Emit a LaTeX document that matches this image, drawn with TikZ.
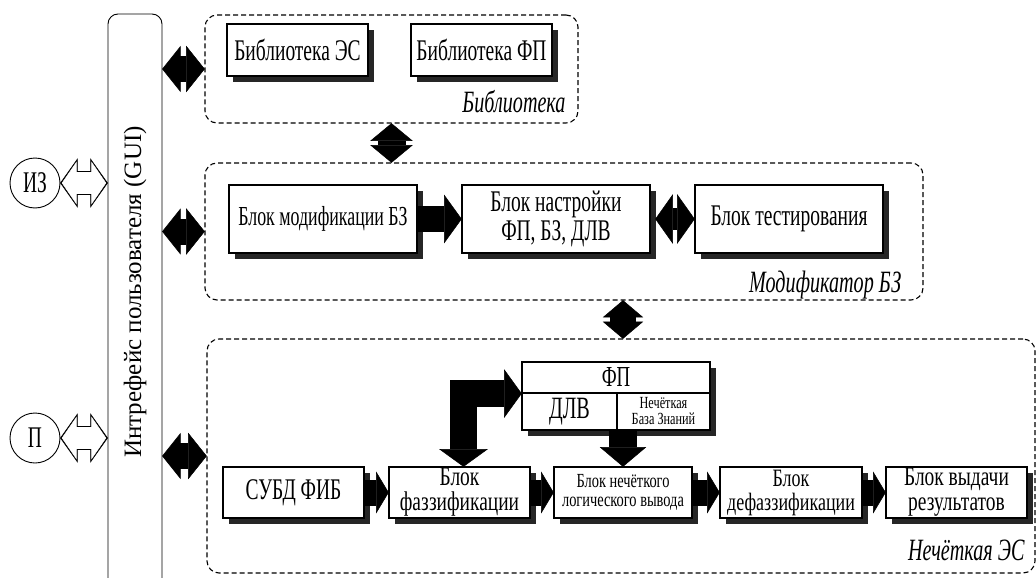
\documentclass[tikz,border=0pt]{standalone}
\usepackage{fontspec}
\setmainfont{Liberation Serif}
\newfontfamily\boxfont[FakeStretch=0.65]{Liberation Serif}
\newfontfamily\wideboxfont[FakeStretch=0.72]{Liberation Serif}
\newfontfamily\guifont{Liberation Serif}
\usetikzlibrary{calc}
\usetikzlibrary{shadows}

\newcommand{\fBox}{\boxfont\fontsize{30}{24}\selectfont}
\newcommand{\fMid}{\boxfont\fontsize{27.5}{24}\selectfont}
\newcommand{\fTwo}{\wideboxfont\fontsize{27}{25}\selectfont}
\newcommand{\fTwoM}{\wideboxfont\fontsize{25}{24}\selectfont}
\newcommand{\fSma}{\wideboxfont\fontsize{20}{19}\selectfont}
\newcommand{\fTin}{\wideboxfont\fontsize{17}{16}\selectfont}
\newcommand{\fLab}{\boxfont\itshape\fontsize{31}{28}\selectfont}

% head of a fat arrow: [colour]{from}{tip}{length}{half width}
\newcommand{\fatHead}[5][black]{
  \path ($(#3)!#4!(#2)$) coordinate (fh);
  \filldraw[#1, line width=0.5pt] ($(fh)!#5!90:(#3)$) -- (#3) -- ($(fh)!#5!-90:(#3)$) -- cycle;
}
% fat arrows: [colour]{from}{to}{shaft}{half head width}{head length}
\newcommand{\fatArr}[6][black]{
  \draw[#1, line width=#4, shorten >=#6] (#2) -- (#3);
  \fatHead[#1]{#2}{#3}{#6}{#5}
}
\newcommand{\fatDbl}[6][black]{
  \draw[#1, line width=#4, shorten >=#6, shorten <=#6] (#2) -- (#3);
  \fatHead[#1]{#2}{#3}{#6}{#5}
  \fatHead[#1]{#3}{#2}{#6}{#5}
}

\tikzset{
  blok/.style={draw, line width=1.1pt, fill=white, inner sep=0pt, align=center, font=\fBox,
    drop shadow={shadow xshift=6pt, shadow yshift=-6pt, fill=black!85, opacity=1}},
  grp/.style={draw, dash pattern=on 5pt off 3pt, line width=1.1pt, rounded corners=12pt, inner sep=0pt},
  krug/.style={draw, circle, line width=0.9pt, minimum size=50pt, inner sep=0pt, font=\fBox}
}

\begin{document}
\begin{tikzpicture}[x=1pt, y=-1pt]
  \fill[white] (0,0) rectangle (1036,578);
  \useasboundingbox (0,0) rectangle (1036,578);
  \clip (0,0) rectangle (1036,578);

  \node[grp, minimum width=373pt, minimum height=108pt] (lib) at (391.5,69) {};
  \node[grp, minimum width=718pt, minimum height=137pt] (mod) at (564,231.5) {};
  \node[grp, minimum width=828pt, minimum height=234pt] (es) at (621,456) {};

  \node[draw, line width=0.9pt, rounded corners=10pt, minimum width=54pt, minimum height=600pt] (gui) at (135,314) {};
  \node[rotate=90, font=\guifont\fontsize{25}{25}\selectfont] (guiText) at (135,292) {Интрефейс пользователя (GUI)};

  \node[krug] (iz) at (35,183) {ИЗ};
  \node[krug] (pp) at (35,438) {П};

  \node[blok, minimum width=141pt, minimum height=52pt] (libES) at (297.5,50) {Библиотека ЭС};
  \node[blok, minimum width=141pt, minimum height=52pt] (libFP) at (481.5,50) {Библиотека ФП};
  \node[font=\fLab, anchor=base east] (libLabel) at (569,112) {Библиотека};

  \node[blok, minimum width=188pt, minimum height=68pt, font=\fMid] (modBZ) at (323,219) {Блок модификации БЗ};
  \node[blok, minimum width=188pt, minimum height=68pt, font=\boxfont\fontsize{30}{29}\selectfont] (modSet) at (556,219) {Блок настройки\\ФП, БЗ, ДЛВ};
  \node[blok, minimum width=188pt, minimum height=68pt] (modTest) at (789,219) {Блок тестирования};
  \node[font=\fLab, anchor=base east] (modLabel) at (905,292) {Модификатор БЗ};

  \node[blok, minimum width=188pt, minimum height=31pt, font=\boxfont\fontsize{29}{26}\selectfont] (fp) at (616,377.5) {ФП};
  \node[blok, minimum width=95pt, minimum height=37pt, font=\boxfont\fontsize{31}{28}\selectfont] (dlv) at (569.5,411.5) {ДЛВ};
  \node[blok, minimum width=93pt, minimum height=37pt, font=\fTin] (kb) at (663.5,411.5) {Нечёткая\\База Знаний};

  \node[blok, minimum width=141pt, minimum height=51pt] (subd) at (293.5,492.5) {СУБД ФИБ};
  \node[blok, minimum width=141pt, minimum height=51pt, font=\fTwo] (fazz) at (459.5,492.5) {Блок\\фаззификации};
  \node[blok, minimum width=138pt, minimum height=51pt, font=\fSma] (infer) at (623,492.5) {Блок нечёткого\\логического вывода};
  \node[blok, minimum width=142pt, minimum height=51pt, font=\fTwoM] (defz) at (791,492.5) {Блок\\дефаззификации};
  \node[blok, minimum width=141pt, minimum height=51pt, font=\fTwo] (out) at (956.5,492.5) {Блок выдачи\\результатов};
  \node[font=\fLab, anchor=base east] (esLabel) at (1028,560) {Нечёткая ЭС};

  \coordinate (izG) at (gui.west |- iz.east);
  \coordinate (ppG) at (gui.west |- pp.east);
  \fatDbl{iz.east}{izG}{24pt}{24pt}{17pt}
  \fatDbl[white]{[xshift=1.7pt]iz.east}{[xshift=-1.7pt]izG}{21.6pt}{20.6pt}{14.2pt}
  \fatDbl{pp.east}{ppG}{24pt}{24pt}{17pt}
  \fatDbl[white]{[xshift=1.7pt]pp.east}{[xshift=-1.7pt]ppG}{21.6pt}{20.6pt}{14.2pt}

  \coordinate (libG) at (gui.east |- lib.west);
  \coordinate (modG) at (gui.east |- mod.west);
  \coordinate (esG) at (gui.east |- es.west);
  \fatDbl{libG}{lib.west}{26pt}{22.5pt}{18pt}
  \fatDbl{modG}{mod.west}{26pt}{22.5pt}{18pt}
  \fatDbl{esG}{es.west}{26pt}{22.5pt}{18pt}

  \coordinate (libM) at (lib.south |- mod.north);
  \coordinate (modE) at (mod.south -| infer.north);
  \coordinate (esM) at (infer.north |- es.north);
  \fatDbl{lib.south}{libM}{28pt}{20.5pt}{17pt}
  \fatDbl{modE}{esM}{26pt}{19.5pt}{16.5pt}

  \fatArr{modBZ.east}{modSet.west}{26pt}{23.5pt}{17pt}
  \fatDbl{[xshift=5pt]modSet.east}{modTest.west}{22pt}{24pt}{17pt}

  \coordinate (lA) at (fp.south west);
  \coordinate (lB) at ([xshift=4pt]fazz.north);
  \coordinate (lC) at (lB |- lA);
  \draw[line width=27pt, shorten <=17pt, shorten >=17pt] (lA) -| (lB);
  \fatHead{lC}{lA}{17pt}{23.5pt}
  \fatHead{lC}{lB}{17pt}{23.5pt}

  \coordinate (kbD) at (infer.north |- dlv.south);
  \fatArr{kbD}{infer.north}{28pt}{22.5pt}{19pt}

  \fatArr{subd.east}{fazz.west}{26pt}{20pt}{12pt}
  \fatArr{fazz.east}{infer.west}{26pt}{20pt}{12pt}
  \fatArr{infer.east}{defz.west}{26pt}{20pt}{12pt}
  \fatArr{defz.east}{out.west}{26pt}{20pt}{12pt}
\end{tikzpicture}
\end{document}
